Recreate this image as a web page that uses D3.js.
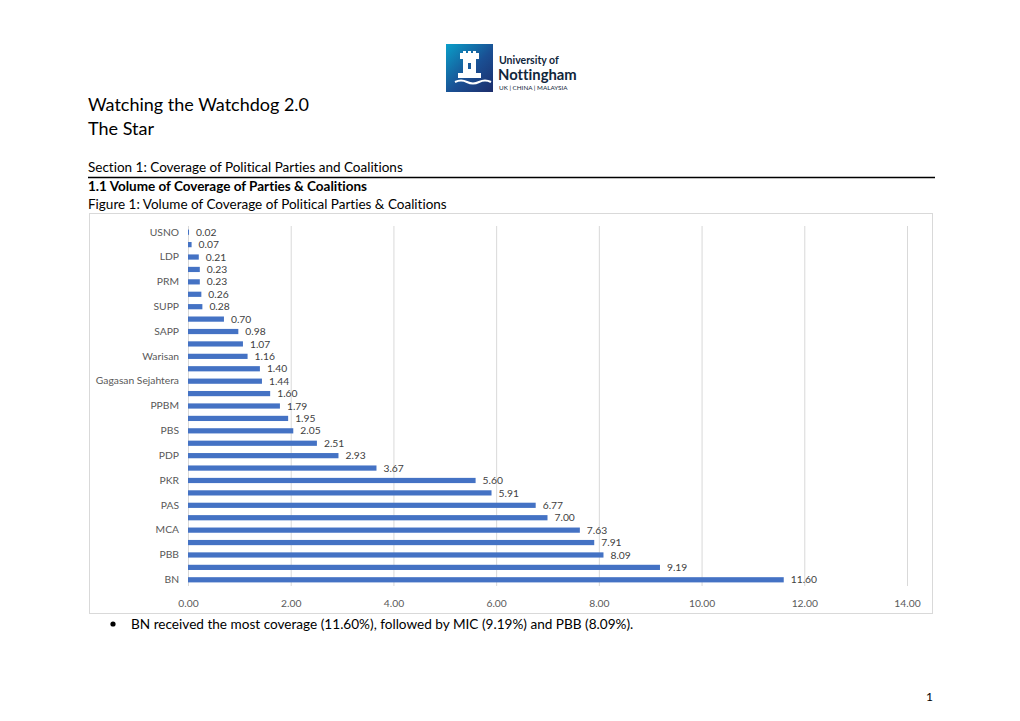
<!DOCTYPE html>
<html><head><meta charset="utf-8">
<script src="https://cdn.jsdelivr.net/npm/d3@7"></script>
<style>body{margin:0;background:#fff}svg{display:block}text{font-variant-ligatures:none;font-feature-settings:"liga" 0}</style>
</head><body>
<script>
const categories = ["USNO","PRS","LDP","PSM","PRM","STAR","SUPP","PH","SAPP","GERAKAN","Warisan","UPKO","Gagasan Sejahtera","BERSATU","PPBM","AMANAH","PBS","PBRS","PDP","UMNO","PKR","DAP","PAS","BEBAS","MCA","PH-Coalition","PBB","MIC","BN"];
const showLabel = [true,false,true,false,true,false,true,false,true,false,true,false,true,false,true,false,true,false,true,false,true,false,true,false,true,false,true,false,true];
const values = [0.02,0.07,0.21,0.23,0.23,0.26,0.28,0.70,0.98,1.07,1.16,1.40,1.44,1.60,1.79,1.95,2.05,2.51,2.93,3.67,5.60,5.91,6.77,7.00,7.63,7.91,8.09,9.19,11.60];
const xTicks = [0,2,4,6,8,10,12,14];

const W=1020,H=721;
const svg=d3.select("body").append("svg").attr("width",W).attr("height",H);
const font="Lato, 'Open Sans', sans-serif";

// header logo
const defs=svg.append("defs");
const g1=defs.append("linearGradient").attr("id","lg").attr("x1","0").attr("y1","0").attr("x2","1").attr("y2","1");
g1.append("stop").attr("offset","0").attr("stop-color","#0a9fc9");
g1.append("stop").attr("offset","0.55").attr("stop-color","#1a4f93");
g1.append("stop").attr("offset","1").attr("stop-color","#1d2d6b");
svg.append("rect").attr("x",446).attr("y",44).attr("width",47).attr("height",48).attr("fill","url(#lg)");
const c=svg.append("g").attr("fill","#fff");
c.append("rect").attr("x",460).attr("y",53).attr("width",19).attr("height",6);
c.append("rect").attr("x",463).attr("y",59).attr("width",13).attr("height",16);
c.append("rect").attr("x",458).attr("y",73).attr("width",23).attr("height",5);
c.append("path").attr("d","M455,82 q6,-3 12,0 t12,0 t12,0").attr("stroke","#fff").attr("stroke-width",2).attr("fill","none");
c.append("rect").attr("x",463).attr("y",51).attr("width",3).attr("height",3);
c.append("rect").attr("x",468).attr("y",51).attr("width",3).attr("height",3);
c.append("rect").attr("x",473).attr("y",51).attr("width",3).attr("height",3);
c.append("rect").attr("x",468).attr("y",63).attr("width",3).attr("height",6).attr("fill","#1a5a9a");
svg.append("text").attr("x",499).attr("y",64).attr("font-family",font).attr("font-weight","bold").attr("font-size",10.5).attr("fill","#10263b").text("University of");
svg.append("text").attr("x",498).attr("y",80).attr("font-family",font).attr("font-weight","bold").attr("font-size",14.8).attr("fill","#10263b").text("Nottingham");
svg.append("text").attr("x",499).attr("y",90).attr("font-family",font).attr("font-size",6.3).attr("fill","#10263b").text("UK | CHINA | MALAYSIA");

// titles
const txt=(x,y,s,t,opt={})=>svg.append("text").attr("x",x).attr("y",y).attr("font-family",font).attr("font-size",s).attr("fill",opt.fill||"#000").attr("font-weight",opt.bold?"bold":"normal").text(t);
txt(88,111,18,"Watching the Watchdog 2.0");
txt(88,135,18,"The Star");
txt(88,172,13.5,"Section 1: Coverage of Political Parties and Coalitions");
svg.append("line").attr("x1",88).attr("x2",935).attr("y1",177.5).attr("y2",177.5).attr("stroke","#000").attr("stroke-width",1.3);
txt(88,191,13.5,"1.1 Volume of Coverage of Parties & Coalitions",{bold:true});
txt(88,209,13.5,"Figure 1: Volume of Coverage of Political Parties & Coalitions");

// chart border
svg.append("rect").attr("x",89.5).attr("y",213.5).attr("width",843).attr("height",400).attr("fill","none").attr("stroke","#d9d9d9");

const x=d3.scaleLinear().domain([0,14]).range([188,907]);
const y=d3.scaleBand().domain(categories).range([226,586]).paddingInner(0.58).paddingOuter(0.29);

svg.append("g").selectAll("line").data(xTicks).join("line")
  .attr("x1",d=>x(d)+0.5).attr("x2",d=>x(d)+0.5).attr("y1",226).attr("y2",586)
  .attr("stroke","#d9d9d9").attr("stroke-width",1);

svg.append("g").selectAll("rect").data(values).join("rect")
  .attr("x",x(0)).attr("y",(d,i)=>y(categories[i])).attr("width",d=>x(d)-x(0)).attr("height",y.bandwidth())
  .attr("fill","#4472c4");

svg.append("g").selectAll("text").data(values).join("text")
  .attr("x",d=>x(d)+7).attr("y",(d,i)=>y(categories[i])+y.bandwidth()/2).attr("dy","0.35em")
  .attr("font-family",font).attr("font-size",10.3).attr("fill","#404040").text(d=>d.toFixed(2));

const ya=d3.axisLeft(y).tickSize(0).tickPadding(9).tickValues(categories.filter((c,i)=>showLabel[i]));
const gy=svg.append("g").attr("transform",`translate(${x(0)},0)`).call(ya);
gy.select(".domain").remove();
gy.selectAll("text").attr("font-family",font).attr("font-size",10.3).attr("fill","#595959");

const xa=d3.axisBottom(x).tickValues(xTicks).tickSize(0).tickPadding(9).tickFormat(d3.format(".2f"));
const gx=svg.append("g").attr("transform","translate(0,591)").call(xa);
gx.select(".domain").remove();
gx.selectAll("text").attr("font-family",font).attr("font-size",10.3).attr("fill","#595959");

svg.append("circle").attr("cx",113).attr("cy",624).attr("r",2.6).attr("fill","#000");
txt(131,629,13.6,"BN received the most coverage (11.60%), followed by MIC (9.19%) and PBB (8.09%).");
txt(926,701,12,"1");
</script>
</body></html>
